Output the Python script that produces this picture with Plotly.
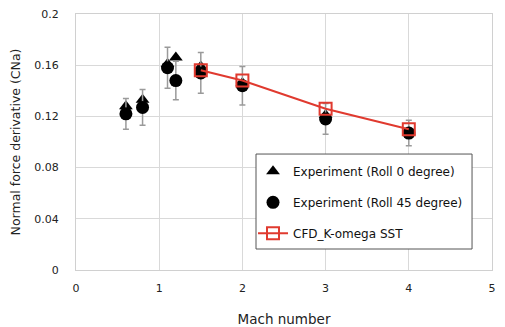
import plotly.graph_objects as go

mach_exp = [0.6, 0.8, 1.1, 1.2, 1.5, 2.0, 3.0, 4.0]
cn_roll0 = [0.128, 0.133, 0.161, 0.166, 0.159, 0.146, 0.121, 0.108]
cn_roll45 = [0.122, 0.127, 0.158, 0.148, 0.154, 0.144, 0.118, 0.107]
err_roll45 = [0.012, 0.014, 0.016, 0.015, 0.016, 0.015, 0.012, 0.010]

mach_cfd = [1.5, 2.0, 3.0, 4.0]
cn_cfd = [0.156, 0.148, 0.126, 0.110]

x_ticks = [0, 1, 2, 3, 4, 5]
y_ticks = [0, 0.04, 0.08, 0.12, 0.16, 0.2]
y_tick_labels = ["0", "0.04", "0.08", "0.12", "0.16", "0.2"]

FONT = "DejaVu Sans"

fig = go.Figure()
fig.add_trace(go.Scatter(
    x=mach_exp, y=cn_roll0, mode="markers", name="Experiment (Roll 0 degree)",
    marker=dict(symbol="triangle-up", size=12, color="black"),
    legendgroup="a",
))
fig.add_trace(go.Scatter(
    x=mach_exp, y=cn_roll45, mode="markers", name="Experiment (Roll 45 degree)",
    marker=dict(symbol="circle", size=13, color="black"),
    error_y=dict(type="data", array=err_roll45, color="#9a9a9a", thickness=1.5, width=3),
    legendgroup="b",
))
fig.add_trace(go.Scatter(
    x=mach_cfd, y=cn_cfd, mode="lines+markers", name="CFD_K-omega SST",
    line=dict(color="#e03a2f", width=2),
    marker=dict(symbol="square-open", size=12, color="#e03a2f", line=dict(width=2)),
    legendgroup="c",
))

# legend frame
fig.add_shape(type="rect", xref="paper", yref="paper",
              x0=0.4327, x1=0.952, y0=0.082, y1=0.453,
              line=dict(color="#555", width=1), fillcolor="white", layer="above")

fig.update_layout(
    width=505, height=327,
    margin=dict(l=76, r=13, t=14, b=57),
    paper_bgcolor="white", plot_bgcolor="white",
    font=dict(family=FONT, size=11, color="#222"),
    showlegend=True,
    legend=dict(
        x=0.4255, y=0.442, xanchor="left", yanchor="top",
        bgcolor="rgba(0,0,0,0)", borderwidth=0,
        font=dict(family=FONT, size=12, color="#111"),
        traceorder="grouped", tracegroupgap=12,
        itemwidth=30,
    ),
    xaxis=dict(
        range=[0, 5], tickvals=x_ticks, showgrid=True, gridcolor="#d9d9d9",
        zeroline=False, showline=True, linecolor="#d0d0d0", mirror=True,
        ticks="outside", ticklen=8, tickcolor="rgba(0,0,0,0)", automargin=False,
        title=dict(text="Mach number", font=dict(size=13.5), standoff=22),
    ),
    yaxis=dict(
        range=[0, 0.2], tickvals=y_ticks, ticktext=y_tick_labels, showgrid=True,
        gridcolor="#d9d9d9", zeroline=False, showline=True, linecolor="#d0d0d0",
        mirror=True, ticks="outside", ticklen=14, tickcolor="rgba(0,0,0,0)",
        automargin=False,
        title=dict(text="Normal force derivative (CNa)", font=dict(size=12.5), standoff=10),
    ),
)

fig.write_html("out.html")
